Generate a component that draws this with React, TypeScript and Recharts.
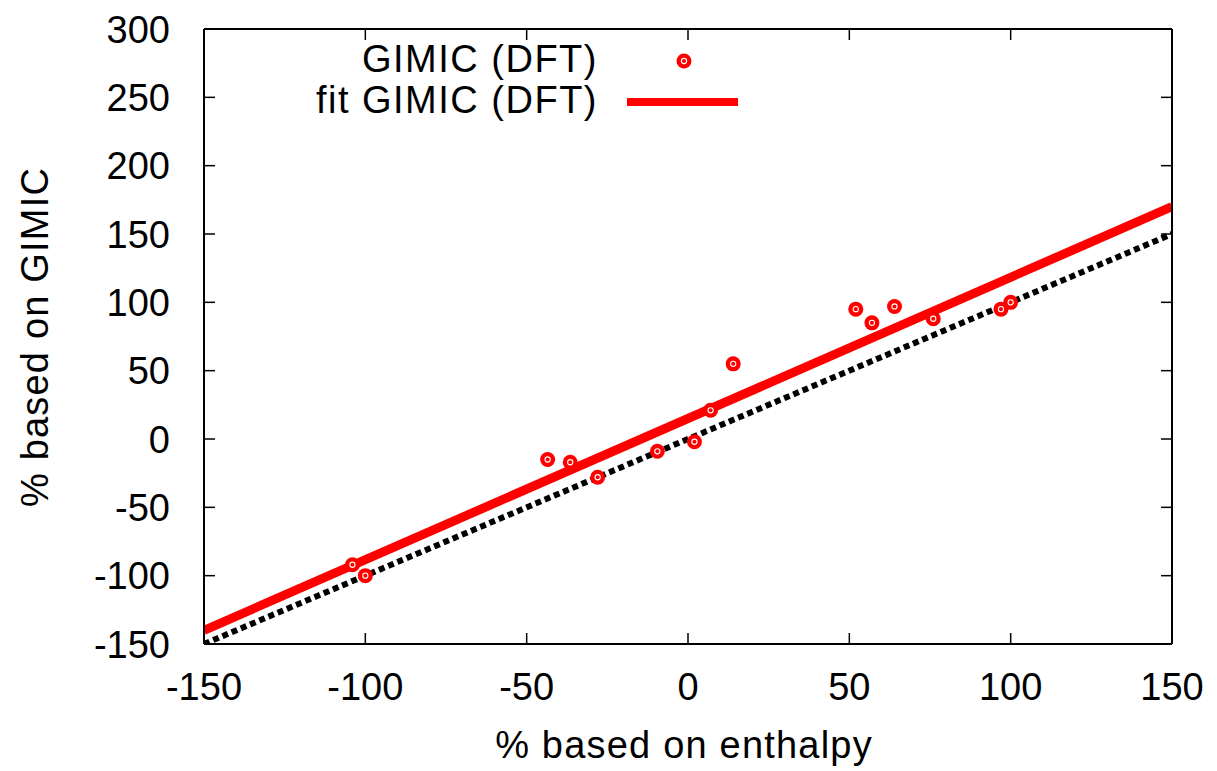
import React from 'react';
import { ComposedChart, Scatter, Line, XAxis, YAxis } from 'recharts';

const xTicks = [-150, -100, -50, 0, 50, 100, 150];
const yTicks = [-150, -100, -50, 0, 50, 100, 150, 200, 250, 300];

const gimicX = [-104, -100, -43.5, -36.5, -28, -9.5, 2, 7, 14, 52, 57, 64, 76, 97, 100];
const gimicY = [-92, -100, -15, -17, -28, -9, -2, 21, 55, 95, 85, 97, 88, 95, 100];

const fitX = [-150, 150];
const fitY = [-140, 170];
const diagX = [-150, 150];
const diagY = [-150, 150];

const seriesName = 'GIMIC (DFT)';
const fitName = 'fit GIMIC (DFT)';
const xLabel = '% based on enthalpy';
const yLabel = '% based on GIMIC';

const gimicData = gimicX.map((x, i) => ({ x, y: gimicY[i] }));
const fitData = fitX.map((x, i) => ({ x, y: fitY[i] }));
const diagData = diagX.map((x, i) => ({ x, y: diagY[i] }));

const W = 1217;
const H = 771;
const FONT = '"Liberation Sans", Arial, Helvetica, sans-serif';
const FS = 38;

const PointShape = (props: any) => {
  const { cx, cy } = props;
  if (cx == null || cy == null) return null;
  return (
    <g>
      <circle cx={cx} cy={cy} r={7.5} fill="#ff0000" />
      <circle cx={cx} cy={cy} r={2.6} fill="none" stroke="#ffffff" strokeWidth={1.1} />
    </g>
  );
};

const BottomTick = (props: any) => {
  const { x, y, payload } = props;
  return (
    <g>
      <line x1={x} x2={x} y1={y} y2={y - 11} stroke="#000" strokeWidth={1.5} />
      <text x={x} y={y + 56} textAnchor="middle" fontFamily={FONT} fontSize={FS} fill="#000">
        {payload.value}
      </text>
    </g>
  );
};

const TopTick = (props: any) => {
  const { x, y } = props;
  return <line x1={x} x2={x} y1={y} y2={y + 11} stroke="#000" strokeWidth={1.5} />;
};

const LeftTick = (props: any) => {
  const { x, y, payload } = props;
  return (
    <g>
      <line x1={x} x2={x + 11} y1={y} y2={y} stroke="#000" strokeWidth={1.5} />
      <text x={x - 34} y={y + 13.5} textAnchor="end" fontFamily={FONT} fontSize={FS} fill="#000">
        {payload.value}
      </text>
    </g>
  );
};

const RightTick = (props: any) => {
  const { x, y } = props;
  return <line x1={x} x2={x - 11} y1={y} y2={y} stroke="#000" strokeWidth={1.5} />;
};

export default function App() {
  return (
    <div style={{ position: 'absolute', left: 0, top: 0, width: W, height: H, background: '#fff' }}>
      <ComposedChart
        width={W}
        height={H}
        margin={{ top: 28, right: 44, bottom: 126, left: 203 }}
        style={{ position: 'absolute', left: 0, top: 0 }}
      >
        <XAxis
          xAxisId="b"
          dataKey="x"
          type="number"
          orientation="bottom"
          domain={[-150, 150]}
          ticks={xTicks}
          allowDataOverflow
          height={1}
          tickSize={0}
          tickMargin={0}
          tickLine={false}
          axisLine={{ stroke: '#000', strokeWidth: 2 }}
          tick={BottomTick}
          interval={0}
        />
        <XAxis
          xAxisId="t"
          dataKey="x"
          type="number"
          orientation="top"
          domain={[-150, 150]}
          ticks={xTicks}
          allowDataOverflow
          height={1}
          tickSize={0}
          tickMargin={0}
          tickLine={false}
          axisLine={{ stroke: '#000', strokeWidth: 2 }}
          tick={TopTick}
          interval={0}
        />
        <YAxis
          yAxisId="l"
          dataKey="y"
          type="number"
          orientation="left"
          domain={[-150, 300]}
          ticks={yTicks}
          allowDataOverflow
          width={1}
          tickSize={0}
          tickMargin={0}
          tickLine={false}
          axisLine={{ stroke: '#000', strokeWidth: 2 }}
          tick={LeftTick}
          interval={0}
        />
        <YAxis
          yAxisId="r"
          dataKey="y"
          type="number"
          orientation="right"
          domain={[-150, 300]}
          ticks={yTicks}
          allowDataOverflow
          width={1}
          tickSize={0}
          tickMargin={0}
          tickLine={false}
          axisLine={{ stroke: '#000', strokeWidth: 2 }}
          tick={RightTick}
          interval={0}
        />
        <Scatter
          name={seriesName}
          data={gimicData}
          xAxisId="b"
          yAxisId="l"
          dataKey="y"
          shape={PointShape}
          isAnimationActive={false}
        />
        <Line
          name={fitName}
          data={fitData}
          xAxisId="b"
          yAxisId="l"
          dataKey="y"
          type="linear"
          stroke="#ff0000"
          strokeWidth={9}
          dot={false}
          activeDot={false}
          isAnimationActive={false}
        />
        <Line
          name="y = x"
          data={diagData}
          xAxisId="b"
          yAxisId="l"
          dataKey="y"
          type="linear"
          stroke="#000000"
          strokeWidth={6}
          strokeDasharray="6 4"
          dot={false}
          activeDot={false}
          isAnimationActive={false}
        />
      </ComposedChart>
      <svg
        width={W}
        height={H}
        style={{ position: 'absolute', left: 0, top: 0, pointerEvents: 'none' }}
      >
        <text x={598} y={72} textAnchor="end" fontFamily={FONT} fontSize={FS} letterSpacing={1.5} fill="#000">
          {seriesName}
        </text>
        <PointShape cx={684} cy={61} />
        <text x={598} y={113} textAnchor="end" fontFamily={FONT} fontSize={FS} letterSpacing={1.5} fill="#000">
          {fitName}
        </text>
        <line x1={627} x2={738} y1={102} y2={102} stroke="#ff0000" strokeWidth={8} />
        <text x={684} y={758} textAnchor="middle" fontFamily={FONT} fontSize={FS} letterSpacing={1.2} fill="#000">
          {xLabel}
        </text>
        <text
          x={48}
          y={337}
          textAnchor="middle"
          fontFamily={FONT}
          fontSize={FS}
          letterSpacing={1.2}
          fill="#000"
          transform="rotate(-90 48 337)"
        >
          {yLabel}
        </text>
      </svg>
    </div>
  );
}
